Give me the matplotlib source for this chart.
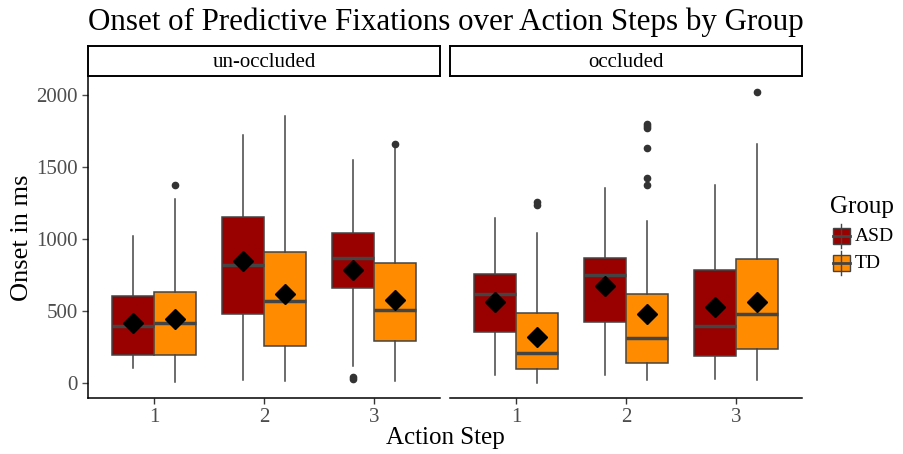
import numpy as np
import matplotlib.pyplot as plt
from matplotlib.patches import Rectangle
from matplotlib.lines import Line2D

plt.rcParams['font.family'] = ['Liberation Serif', 'DejaVu Serif']

steps = [1, 2, 3]
conditions = ['un-occluded', 'occluded']
groups = ['ASD', 'TD']
colors = {'ASD': '#990000', 'TD': '#FF8C00'}

# per condition, per group: values for steps 1..3
q1 = {('un-occluded', 'ASD'): [196, 478, 662], ('un-occluded', 'TD'): [196, 258, 293],
      ('occluded', 'ASD'): [355, 429, 189], ('occluded', 'TD'): [102, 143, 240]}
med = {('un-occluded', 'ASD'): [397, 824, 870], ('un-occluded', 'TD'): [420, 570, 508],
       ('occluded', 'ASD'): [621, 754, 397], ('occluded', 'TD'): [212, 314, 482]}
q3 = {('un-occluded', 'ASD'): [604, 1153, 1047], ('un-occluded', 'TD'): [634, 911, 835],
      ('occluded', 'ASD'): [761, 867, 789], ('occluded', 'TD'): [489, 623, 865]}
whislo = {('un-occluded', 'ASD'): [104, 23, 120], ('un-occluded', 'TD'): [9, 16, 16],
          ('occluded', 'ASD'): [55, 55, 32], ('occluded', 'TD'): [5, 21, 21]}
whishi = {('un-occluded', 'ASD'): [1020, 1723, 1550], ('un-occluded', 'TD'): [1280, 1857, 1631],
          ('occluded', 'ASD'): [1147, 1354, 1377], ('occluded', 'TD'): [1043, 1128, 1661]}
means = {('un-occluded', 'ASD'): [420, 847, 789], ('un-occluded', 'TD'): [448, 623, 577],
         ('occluded', 'ASD'): [563, 674, 531], ('occluded', 'TD'): [321, 478, 563]}
fliers = {('un-occluded', 'ASD'): [[], [], [30, 42]], ('un-occluded', 'TD'): [[1375], [], [1661]],
          ('occluded', 'ASD'): [[], [], []],
          ('occluded', 'TD'): [[1239, 1262], [1375, 1428, 1631, 1770, 1786, 1799], [2023]]}

W, H = 904, 454
fig = plt.figure(figsize=(W / 100, H / 100), dpi=100)

edge = '#444444'
panel_left = [88, 450]
pw = 352
ptop, pbot = 77, 398
offsets = {'ASD': -0.19, 'TD': 0.19}

for ci, cond in enumerate(conditions):
    x0 = panel_left[ci]
    ax = fig.add_axes([x0 / W, (H - pbot) / H, pw / W, (pbot - ptop) / H])
    for g in groups:
        k = (cond, g)
        stats = []
        for i in range(3):
            stats.append(dict(q1=q1[k][i], med=med[k][i], q3=q3[k][i],
                              whislo=whislo[k][i], whishi=whishi[k][i],
                              mean=means[k][i], fliers=fliers[k][i]))
        ax.bxp(stats, positions=[s + offsets[g] for s in steps], widths=0.375,
               patch_artist=True, showmeans=True, showcaps=False,
               boxprops=dict(facecolor=colors[g], edgecolor=edge, linewidth=1.1),
               medianprops=dict(color=edge, linewidth=2.5),
               whiskerprops=dict(color=edge, linewidth=1.1),
               flierprops=dict(marker='o', markerfacecolor='#333333', markeredgecolor='#333333',
                               markersize=4.5),
               meanprops=dict(marker='D', markerfacecolor='black', markeredgecolor='black',
                              markersize=10), manage_ticks=False)
    ax.set_xlim(0.4, 3.6)
    ax.set_ylim(-102, 2127)
    ax.set_xticks(steps)
    ax.set_xticklabels([str(s) for s in steps])
    ax.set_yticks([0, 500, 1000, 1500, 2000])
    for sp in ['top', 'right']:
        ax.spines[sp].set_visible(False)
    ax.spines['bottom'].set_linewidth(1.1)
    ax.spines['left'].set_linewidth(1.1)
    ax.tick_params(colors='#4d4d4d', labelsize=15, length=4, width=1)
    ax.tick_params(axis='x', colors='#333333', labelcolor='#4d4d4d')
    if ci == 1:
        ax.spines['left'].set_visible(False)
        ax.tick_params(axis='y', left=False, labelleft=False)
    # strip
    sax = fig.add_axes([x0 / W, (H - 76) / H, pw / W, 30 / H])
    sax.set_xticks([])
    sax.set_yticks([])
    for sp in sax.spines.values():
        sp.set_linewidth(1.4)
    sax.text(0.5, 0.45, cond, ha='center', va='center', fontsize=15, transform=sax.transAxes)

fig.text(446 / W, 1 - 22 / H, 'Onset of Predictive Fixations over Action Steps by Group',
         ha='center', va='center', fontsize=22.3)
fig.text(445 / W, 1 - 438 / H, 'Action Step', ha='center', va='center', fontsize=18)
fig.text(22 / W, 1 - 238 / H, 'Onset in ms', ha='center', va='center', fontsize=19, rotation=90)

# legend drawn by hand
fig.text(830 / W, 1 - 207 / H, 'Group', ha='left', va='center', fontsize=18)
for j, g in enumerate(groups):
    yc = 236 + j * 27
    fig.add_artist(Line2D([841.5 / W, 841.5 / W], [1 - (yc - 12) / H, 1 - (yc + 12) / H],
                          color=edge, lw=1, transform=fig.transFigure))
    fig.add_artist(Rectangle((833 / W, 1 - (yc + 8) / H), 17 / W, 16 / H, facecolor=colors[g],
                             edgecolor=edge, lw=1, transform=fig.transFigure))
    fig.add_artist(Line2D([833 / W, 850 / W], [1 - yc / H, 1 - yc / H],
                          color=edge, lw=2, transform=fig.transFigure))
    fig.text(855 / W, 1 - yc / H, g, ha='left', va='center', fontsize=14)

fig.savefig('out.png', dpi=100)
